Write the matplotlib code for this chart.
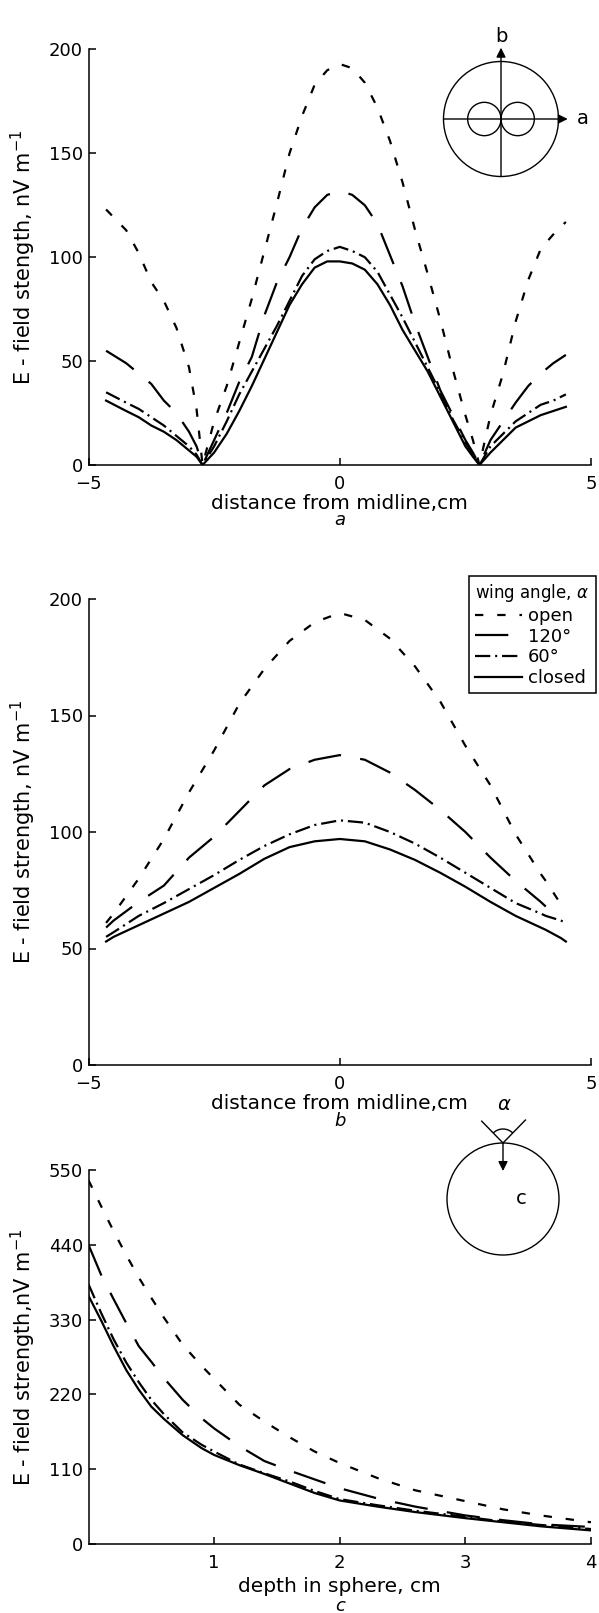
import numpy as np
import matplotlib
matplotlib.use('Agg')
import matplotlib.pyplot as plt
from matplotlib.patches import Circle, Arc

# ---- data ----
# panel a: field along axis a (distance from midline, cm)
xa = [-4.65, -4.25, -4.0, -3.75, -3.5, -3.25, -3.0, -2.85, -2.73, -2.5, -2.25, -2.0,
      -1.75, -1.5, -1.25, -1.0, -0.75, -0.5, -0.25, 0.0, 0.25, 0.5, 0.75, 1.0, 1.25,
      1.5, 1.75, 2.0, 2.25, 2.5, 2.65, 2.78, 3.0, 3.25, 3.5, 3.75, 4.0, 4.25, 4.5]
a_open = [123, 113, 102, 88, 79, 66, 47, 27, 0, 21, 38, 59, 80, 103, 126, 150, 168, 183,
          190, 193, 191, 184, 172, 156, 136, 113, 92, 70, 46, 24, 12, 0, 24, 44, 69, 89,
          104, 111, 117]
a_120 = [55, 49, 44, 39, 31, 25, 16, 9, 0, 12, 25, 40, 52, 72, 88, 100, 114, 124, 130,
         132, 130, 125, 116, 101, 86, 68, 52, 36, 24, 12, 6, 0, 12, 21, 30, 38, 44, 49, 53]
a_60 = [35, 30, 27, 23, 19, 14, 9, 5, 0, 9, 21, 34, 45, 56, 67, 79, 91, 99, 103, 105,
        103, 100, 93, 82, 71, 59, 47, 35, 22, 11, 5, 0, 9, 15, 21, 25, 29, 31, 34]
a_closed = [31, 26, 23, 19, 16, 12, 7, 4, 0, 6, 15, 26, 38, 51, 64, 77, 87, 95, 98, 98,
            97, 94, 87, 77, 65, 55, 45, 33, 21, 9, 4, 0, 6, 12, 18, 21, 24, 26, 28]

# panel b: field along axis b
xb = [-4.65, -4.5, -4.0, -3.5, -3.0, -2.5, -2.0, -1.5, -1.0, -0.5, 0.0, 0.5, 1.0, 1.5,
      2.0, 2.5, 3.0, 3.5, 4.0, 4.1, 4.4, 4.5]
b_open = [61, 65, 80, 97, 117, 135, 155, 170, 182, 190, 194, 191, 183, 171, 156, 137,
          120, 99, 82, 79, 69, np.nan]
b_120 = [59, 62, 70, 77, 89, 98, 109, 120, 127, 131, 133, 131, 125.5, 118, 109.5, 100,
         89, 79, 70, 68, np.nan, np.nan]
b_60 = [55, 57, 64, 69.5, 75.5, 81.5, 88, 94, 99, 103, 105, 104, 100, 95, 89, 82.5, 76,
        69.5, 65, 64, 62, 61]
b_closed = [53, 55, 60, 65, 70, 76, 82, 88.5, 93.5, 96, 97, 96, 92.5, 88, 82.5, 76.5, 70,
            64, 59, 58, 54.5, 53]

# panel c: field vs depth in sphere
xc = [0, 0.1, 0.2, 0.3, 0.4, 0.5, 0.6, 0.75, 0.9, 1.0, 1.2, 1.4, 1.6, 1.8, 2.0, 2.3,
      2.6, 3.0, 3.3, 3.6, 4.0]
c_open = [535, 497, 460, 425, 392, 362, 333, 293, 262, 243, 205, 180, 157, 136, 119, 97,
          79, 63, 51, 42, 32]
c_120 = [440, 396, 360, 325, 291, 268, 244, 212, 185, 170, 144, 122, 108, 95, 82, 67, 55,
         42, 35, 29, 25]
c_60 = [382, 340, 301, 267, 238, 212, 191, 164, 146, 136, 117, 104, 92, 78, 66, 57, 49,
        40, 33, 28, 22]
c_closed = [365, 329, 291, 256, 227, 202, 184, 160, 141, 131, 116, 103, 89, 75, 64, 55, 47,
            38, 32, 26, 20]

labels = ['open', '120°', '60°', 'closed']

plt.rcParams['font.family'] = 'DejaVu Sans'
plt.rcParams['lines.scale_dashes'] = False

styles = [(0, (6, 10)), (0, (24, 14)), (0, (11, 3.5, 1.5, 3.5)), '-']
lw = 1.6

fig = plt.figure(figsize=(5.99, 16.13), dpi=100)


def px_axes(left, top, right, bottom):
    W, H = 599.0, 1613.0
    return fig.add_axes([left / W, 1 - bottom / H, (right - left) / W, (bottom - top) / H])


def setup(ax):
    for s in ['top', 'right']:
        ax.spines[s].set_visible(False)
    for s in ['left', 'bottom']:
        ax.spines[s].set_linewidth(1.1)
    ax.tick_params(direction='in', length=5, width=1.1, labelsize=13)
    ax.tick_params(axis='y', pad=4)
    ax.tick_params(axis='x', pad=7)


ax_a = px_axes(88.5, 49.5, 591, 465)
ax_b = px_axes(88.5, 599, 591, 1065)
ax_c = px_axes(88.5, 1170, 591, 1544)

for ys, st, lab in zip([a_open, a_120, a_60, a_closed], styles, labels):
    ax_a.plot(xa, ys, color='k', lw=lw, linestyle=st, label=lab)
for ys, st, lab in zip([b_open, b_120, b_60, b_closed], styles, labels):
    ax_b.plot(xb, ys, color='k', lw=lw, linestyle=st, label=lab)
for ys, st, lab in zip([c_open, c_120, c_60, c_closed], styles, labels):
    ax_c.plot(xc, ys, color='k', lw=lw, linestyle=st, label=lab)

for ax in [ax_a, ax_b]:
    setup(ax)
    ax.set_xlim(-5, 5)
    ax.set_ylim(0, 200)
    ax.set_xticks([-5, 0, 5])
    ax.set_yticks([0, 50, 100, 150, 200])
    ax.set_xlabel('distance from midline,cm', fontsize=14.5, labelpad=1)

setup(ax_c)
ax_c.set_xlim(0, 4)
ax_c.set_ylim(0, 550)
ax_c.set_xticks([1, 2, 3, 4])
ax_c.set_yticks([0, 110, 220, 330, 440, 550])
ax_c.set_xlabel('depth in sphere, cm', fontsize=14.5, labelpad=4)

ax_a.set_ylabel('E - field stength, nV m$^{-1}$', fontsize=15)
ax_b.set_ylabel('E - field strength, nV m$^{-1}$', fontsize=15)
ax_c.set_ylabel('E - field strength,nV m$^{-1}$', fontsize=15)
for ax in [ax_a, ax_b, ax_c]:
    ax.yaxis.set_label_coords(-0.100, 0.5)

# panel letters
fig.text(340 / 599, 1 - 520 / 1613, 'a', fontsize=13, style='italic', ha='center', va='center')
fig.text(340 / 599, 1 - 1121 / 1613, 'b', fontsize=13, style='italic', ha='center', va='center')
fig.text(340 / 599, 1 - 1606 / 1613, 'c', fontsize=13, style='italic', ha='center', va='center')

# legend in panel b
leg = ax_b.legend(title='wing angle, $\\alpha$', loc='upper left',
                  bbox_to_anchor=(469 / 599, 1 - 576 / 1613), bbox_transform=fig.transFigure,
                  frameon=True, fancybox=False, edgecolor='k', fontsize=13, title_fontsize=12,
                  handlelength=2.6, labelspacing=0.15, borderpad=0.35, borderaxespad=0,
                  handletextpad=0.3)
leg._legend_box.align = 'left'
leg.get_frame().set_linewidth(1.1)
leg.get_frame().set_alpha(1)

# inset sketch in panel a (sphere seen from above, dipole pattern)
ins_a = px_axes(431, 25, 599, 190)
ins_a.set_xlim(-1.2174, 1.7043)
ins_a.set_ylim(-1.2348, 1.6348)
ins_a.axis('off')
ins_a.add_patch(Circle((0, 0), 1, fill=False, lw=1.0, color='k'))
ins_a.add_patch(Circle((-0.29, 0), 0.29, fill=False, lw=1.0, color='k'))
ins_a.add_patch(Circle((0.29, 0), 0.29, fill=False, lw=1.0, color='k'))
arr = dict(arrowstyle='-|>', lw=1.0, color='k', mutation_scale=14, shrinkA=0, shrinkB=0)
ins_a.annotate('', xy=(1.16, 0), xytext=(-1, 0), arrowprops=arr)
ins_a.annotate('', xy=(0, 1.24), xytext=(0, -1), arrowprops=arr)
ins_a.text(1.43, 0, 'a', fontsize=14, ha='center', va='center')
ins_a.text(0, 1.43, 'b', fontsize=14, ha='center', va='center')

# inset sketch in panel c (wings on top of sphere)
ins_c = px_axes(431, 1090, 599, 1265)
ins_c.set_xlim(-1.2857, 1.7143)
ins_c.set_ylim(-1.1786, 1.9464)
ins_c.axis('off')
ins_c.add_patch(Circle((0, 0), 1, fill=False, lw=1.0, color='k'))
ins_c.plot([-0.38, 0, 0.4], [1.39, 1.0, 1.41], color='k', lw=1.0)
ins_c.add_patch(Arc((0, 1.0), 0.5, 0.5, theta1=45, theta2=135, lw=1.0, color='k'))
ins_c.annotate('', xy=(0, 0.5), xytext=(0, 1.0), arrowprops=arr)
ins_c.text(0.03, 1.68, '$\\alpha$', fontsize=14, ha='center', va='center')
ins_c.text(0.33, 0.0, 'c', fontsize=14, ha='center', va='center')

fig.savefig('out.png', dpi=100)
